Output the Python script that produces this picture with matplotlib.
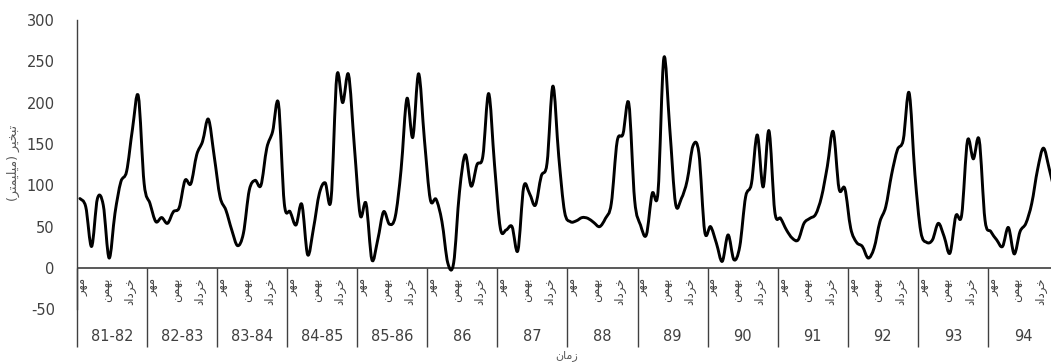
import numpy as np
import matplotlib
matplotlib.use("Agg")
import matplotlib.pyplot as plt
from matplotlib.path import Path
from matplotlib.patches import PathPatch

# ---------------- data ----------------
groups = ["81-82", "82-83", "83-84", "84-85", "85-86", "86", "87",
          "88", "89", "90", "91", "92", "93", "94"]
# month labels shown (every 4th month): Mehr, Bahman, Khordad (pre-shaped, visual order)
month_labels = ["\uFEAE\uFEEC\uFEE3",                 # مهر
                "\uFEE6\uFEE4\uFEEC\uFE91",           # بهمن
                "\uFEA9\uFE8D\uFEA9\uFEAE\uFEA7"]     # خرداد
month_slots = [0, 4, 8]
months_per_group = 12

evap_81_82 = [84, 74, 26, 84, 76, 12, 66, 104, 117, 168, 208, 102]
evap_82_83 = [78, 56, 61, 54, 68, 73, 106, 102, 137, 153, 180, 135]
evap_83_84 = [86, 70, 46, 27, 42, 94, 106, 100, 145, 165, 199, 78]
evap_84_85 = [68, 52, 77, 16, 48, 90, 103, 83, 232, 200, 234, 147]
evap_85_86 = [64, 78, 10, 34, 68, 53, 62, 119, 205, 158, 235, 155]
evap_86 = [83, 83, 56, 6, 6, 92, 137, 99, 125, 135, 211, 125]
evap_87 = [48, 46, 50, 21, 98, 90, 76, 111, 127, 220, 135, 68]
evap_88 = [56, 57, 61, 60, 55, 50, 60, 78, 153, 162, 199, 82]
evap_89 = [52, 40, 90, 92, 254, 170, 78, 84, 106, 148, 139, 44]
evap_90 = [50, 30, 8, 40, 10, 26, 86, 102, 161, 98, 166, 68]
evap_91 = [60, 46, 36, 34, 54, 60, 65, 86, 123, 165, 96, 96]
evap_92 = [48, 31, 26, 12, 24, 56, 74, 113, 143, 155, 212, 113]
evap_93 = [44, 31, 34, 54, 38, 18, 63, 64, 154, 132, 155, 58]
evap_94 = [44, 34, 26, 49, 17, 44, 54, 78, 119, 145, 120, 90]

y_ticks = [-50, 0, 50, 100, 150, 200, 250, 300]
y_label = "(\uFEAE\uFE98\uFEE4\uFEF4\uFEE0\uFEF4\uFEE3) \uFEAE\uFEF4\uFEA8\uFE92\uFE97"  # تبخیر (میلیمتر)
x_label = "\uFEE5\uFE8E\uFEE3\uFEAF"  # زمان

values = np.array(evap_81_82 + evap_82_83 + evap_83_84 + evap_84_85 + evap_85_86 +
                  evap_86 + evap_87 + evap_88 + evap_89 + evap_90 + evap_91 +
                  evap_92 + evap_93 + evap_94, dtype=float)
n = len(values)
xs = np.arange(n, dtype=float)

# ---------------- figure ----------------
W, H = 1051, 362
fig = plt.figure(figsize=(W / 100, H / 100), dpi=100)
# plot area (right end extends beyond the cropped image, like the reference)
left_px, right_px, top_px, bot_px = 77, 1058, 20, 309.3
ax = fig.add_axes([left_px / W, 1 - bot_px / H, (right_px - left_px) / W, (bot_px - top_px) / H])
ax.set_xlim(-0.5, n - 0.5)
ax.set_ylim(-50, 300)

# smoothed line (Excel-style Bezier smoothing through the data points)
P = np.column_stack([xs, values])
verts = [tuple(P[0])]
codes = [Path.MOVETO]
for i in range(n - 1):
    p0 = P[i - 1] if i > 0 else P[i]
    p1 = P[i]
    p2 = P[i + 1]
    p3 = P[i + 2] if i + 2 < n else P[i + 1]
    c1 = p1 + (p2 - p0) / 6.0
    c2 = p2 - (p3 - p1) / 6.0
    verts += [tuple(c1), tuple(c2), tuple(p2)]
    codes += [Path.CURVE4] * 3
ax.add_patch(PathPatch(Path(verts, codes), fill=False, edgecolor="black",
                       lw=2.1, capstyle="round", joinstyle="round", zorder=3))

# axes styling
for s in ["top", "right", "bottom"]:
    ax.spines[s].set_visible(False)
ax.spines["left"].set_color("#404040")
ax.spines["left"].set_linewidth(1.0)
ax.set_yticks(y_ticks)
ax.set_yticklabels([str(v) for v in y_ticks])
ax.tick_params(axis="y", length=0, pad=16, labelsize=10.5, labelcolor="#404040")
ax.set_xticks([])
ax.axhline(0, color="#595959", lw=1.4, zorder=2)

# multi-level category axis
px_per_unit = (268 - top_px) / 300.0
sep_bottom = (268 - 347) / px_per_unit
month_top = (268 - 278) / px_per_unit
group_y = (268 - 337) / px_per_unit
bounds = [-0.5 + months_per_group * k for k in range(len(groups) + 1)]
ax.vlines(bounds, sep_bottom, 0, colors="#404040", lw=1.0, clip_on=False)
for g, name in enumerate(groups):
    base = g * months_per_group
    for lab, slot in zip(month_labels, month_slots):
        ax.text(base + slot + 0.5, month_top, lab, rotation=90, ha="center", va="top",
                fontsize=8.5, color="#404040", family="DejaVu Sans", clip_on=False)
    ax.text(base + (months_per_group - 1) / 2.0, group_y, name, ha="center", va="center",
            fontsize=10.5, color="#404040", clip_on=False)

fig.text(13 / W, 1 - 163 / H, y_label, rotation=90, ha="center", va="center",
         fontsize=9, color="#595959", family="DejaVu Sans")
fig.text(567 / W, 1 - 361 / H, x_label, ha="center", va="bottom",
         fontsize=8, color="#595959", family="DejaVu Sans")

fig.savefig("out.png", dpi=100)
